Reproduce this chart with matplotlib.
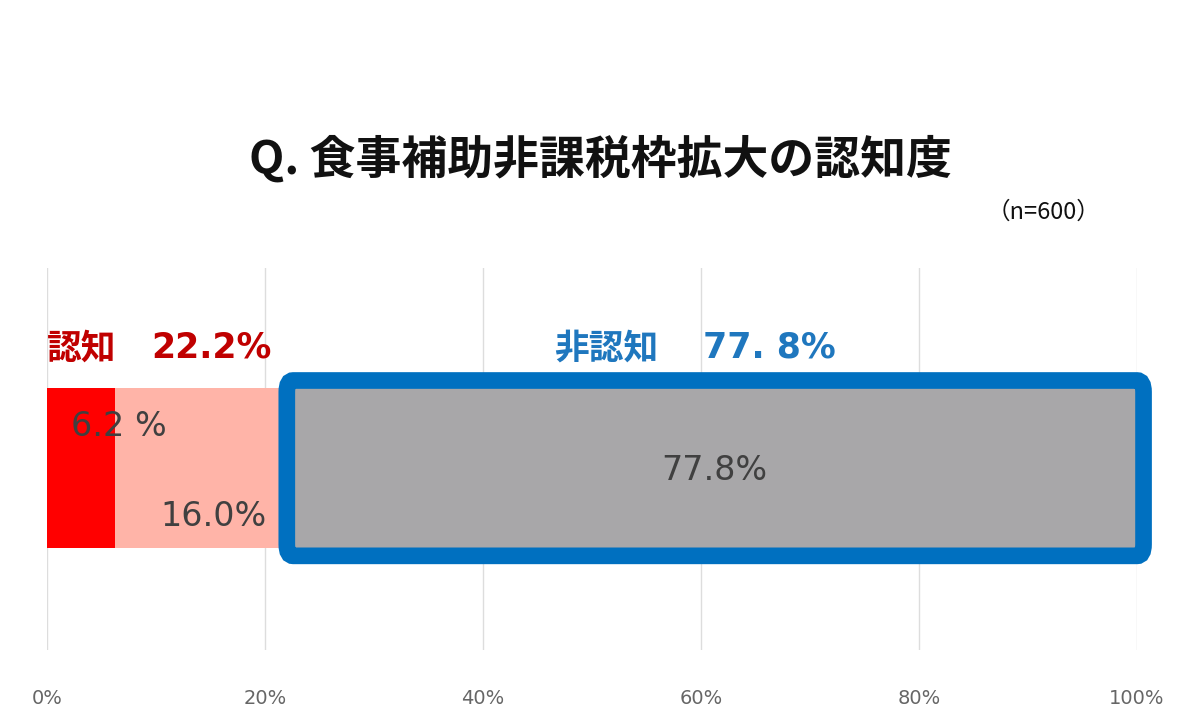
import matplotlib
matplotlib.use("Agg")
import matplotlib.pyplot as plt
from matplotlib.patches import FancyBboxPatch

plt.rcParams['font.family'] = ['Noto Sans CJK JP', 'DejaVu Sans']
NUM = ['DejaVu Sans', 'Noto Sans CJK JP']

segments = ["認知(詳しく)", "認知(なんとなく)", "非認知"]
values = [6.2, 16.0, 77.8]
colors = ["#FF0000", "#FFB4A8", "#A8A7A9"]
ticks = [0, 20, 40, 60, 80, 100]
tick_labels = ["0%", "20%", "40%", "60%", "80%", "100%"]

fig = plt.figure(figsize=(12, 7.2), dpi=100)
ax = fig.add_axes([47/1200, 1-650/720, 1090/1200, 382/720])
ax.set_xlim(0, 100)
ax.set_ylim(0, 1)
for t in ticks:
    ax.axvline(t, color="#DDDDDD", lw=1, zorder=0)
yc, h = 0.476, 0.419
left = 0
for v, c in zip(values, colors):
    ax.barh(yc, v, left=left, height=h, color=c, zorder=2)
    left += v

x0 = values[0] + values[1]
pad_y = 0.02
box = FancyBboxPatch((x0 - 0.2, yc - h/2 - pad_y), values[2] + 0.8, h + 2*pad_y,
                     boxstyle="round,pad=0,rounding_size=0.6", fill=False,
                     ec="#0070C0", lw=12, zorder=3, mutation_aspect=0.05, clip_on=False)
ax.add_patch(box)

tc = "#404040"
ax.text(6.6, (650-427)/382, f"{values[0]:.1f} %", ha="center", va="center", fontsize=24, color=tc, zorder=4, family=NUM)
ax.text(15.3, (650-517)/382, f"{values[1]:.1f}%", ha="center", va="center", fontsize=24, color=tc, zorder=4, family=NUM)
ax.text(61.2, (650-470)/382, f"{values[2]:.1f}%", ha="center", va="center", fontsize=24, color=tc, zorder=4, family=NUM)

ya = (650-348)/382
aware = values[0] + values[1]
ax.text(0, ya, "認知", ha="left", va="center", fontsize=25, color="#C00000", weight="bold")
ax.text(9.6, ya, f"{aware:.1f}%", ha="left", va="center", fontsize=25, color="#C00000", weight="bold", family=NUM)
ax.text(46.5, ya, "非認知", ha="left", va="center", fontsize=25, color="#1F77BE", weight="bold")
ax.text(60.2, ya, "77. 8%", ha="left", va="center", fontsize=25, color="#1F77BE", weight="bold", family=NUM)

ax.set_xticks(ticks)
ax.set_xticklabels(tick_labels, fontsize=14, color="#666666", family=NUM)
ax.tick_params(axis="x", length=0, pad=28)
ax.set_yticks([])
for s in ax.spines.values():
    s.set_visible(False)

fig.text(0.5, 1-160/720, "Q. 食事補助非課税枠拡大の認知度", ha="center", va="center", fontsize=33, weight="bold", color="#111111")
fig.text(0.87, 1-212/720, "（n=600）", ha="center", va="center", fontsize=17, color="#111111")

fig.savefig("out.png", dpi=100, facecolor="white")
